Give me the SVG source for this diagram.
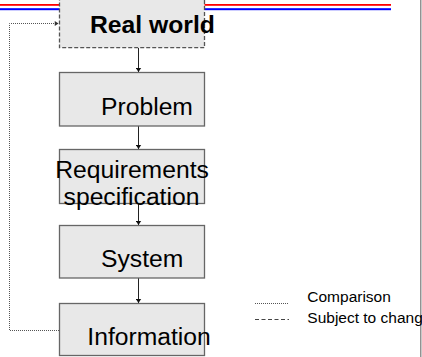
<svg xmlns="http://www.w3.org/2000/svg" width="422" height="357" viewBox="0 0 422 357">
<defs>
<style>
.box{fill:#e8e8e8;stroke:#666;stroke-width:1.3}
.lbl{font-family:"Liberation Sans",Arial,sans-serif;font-size:24.7px;fill:#000}
.leg{font-family:"Liberation Sans",Arial,sans-serif;font-size:15.5px;fill:#000}
.conn{fill:none;stroke:#222;stroke-width:1}
.dot{fill:none;stroke:#555;stroke-width:1;stroke-dasharray:1,1}
</style>
<marker id="ah" viewBox="0 0 6 8" refX="6" refY="4" markerWidth="4" markerHeight="6" orient="auto" markerUnits="userSpaceOnUse">
<path d="M0,0 L6,4 L0,8 Z" fill="#111"/>
</marker>
<marker id="ah2" viewBox="0 0 6 8" refX="6" refY="4" markerWidth="6" markerHeight="5" orient="auto" markerUnits="userSpaceOnUse">
<path d="M0,0 L6,4 L0,8 Z" fill="#333"/>
</marker>
</defs>
<rect width="422" height="357" fill="#fff"/>
<g id="header">
<rect x="0" y="4" width="391" height="1.8" fill="#f00"/>
<rect x="0" y="8.2" width="391" height="2" fill="#00f"/>
</g>
<line x1="420.8" y1="0" x2="420.8" y2="357" stroke="#777" stroke-width="1.2"/>
<g id="connectors">
<line class="conn" x1="138.5" y1="48" x2="138.5" y2="72" marker-end="url(#ah)"/>
<line class="conn" x1="138.5" y1="126" x2="138.5" y2="149" marker-end="url(#ah)"/>
<line class="conn" x1="138.5" y1="203.5" x2="138.5" y2="225" marker-end="url(#ah)"/>
<line class="conn" x1="138.5" y1="278" x2="138.5" y2="303" marker-end="url(#ah)"/>
<polyline class="dot" points="59,330.5 9.5,330.5 9.5,23.5 58.5,23.5" marker-end="url(#ah2)"/>
</g>
<g id="real-world">
<rect x="59.5" y="-5" width="145" height="52.7" fill="#e8e8e8" stroke="#555" stroke-width="1.3" stroke-dasharray="4,2"/>
<text class="lbl" x="90" y="33" font-weight="bold">Real world</text>
</g>
<g id="problem">
<rect class="box" x="59.5" y="72.5" width="145" height="53.5"/>
<text class="lbl" x="101" y="115">Problem</text>
</g>
<g id="requirements">
<rect class="box" x="59.5" y="149.5" width="145" height="54"/>
<text class="lbl" x="132" y="177.5" text-anchor="middle">Requirements</text>
<text class="lbl" x="131.5" y="204.5" text-anchor="middle">specification</text>
</g>
<g id="system">
<rect class="box" x="59.5" y="225.5" width="145" height="52.5"/>
<text class="lbl" x="101" y="266.5">System</text>
</g>
<g id="information">
<rect class="box" x="59.5" y="303.5" width="145" height="52"/>
<text class="lbl" x="87.3" y="345">Information</text>
</g>
<g id="legend">
<line class="dot" x1="255" y1="303.5" x2="289" y2="303.5"/>
<text class="leg" x="307.3" y="301.7">Comparison</text>
<line x1="255" y1="319.5" x2="289" y2="319.5" stroke="#444" stroke-width="1" stroke-dasharray="4,2.5"/>
<text class="leg" x="307.3" y="322.5">Subject to chang</text>
</g>
</svg>
